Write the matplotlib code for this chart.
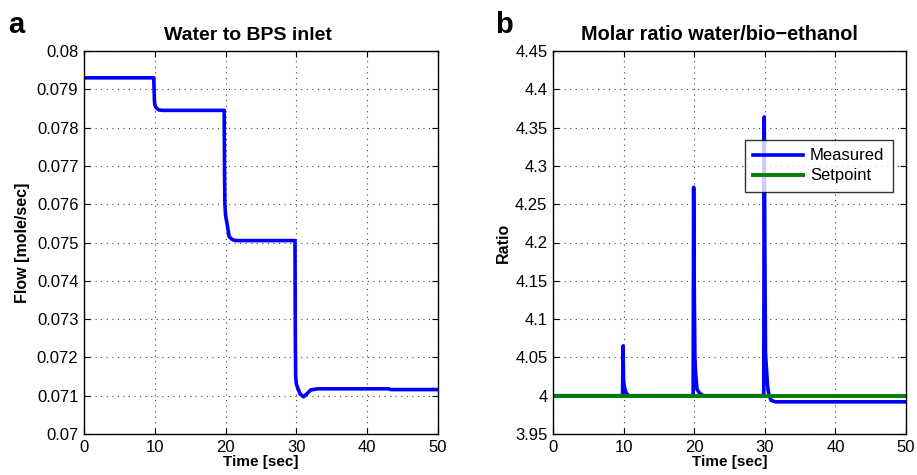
import matplotlib
matplotlib.use("Agg")
import matplotlib.pyplot as plt

plt.rcParams['font.family'] = ['Liberation Sans', 'DejaVu Sans']

# Panel a: water flow to BPS inlet
t_flow = [0, 9.85, 9.9, 9.95, 10.0, 10.1, 10.3, 10.6, 11.0, 19.8, 19.85, 19.9, 20.0,
          20.2, 20.5, 21.0, 21.5, 29.8, 29.85, 29.9, 30.0, 30.2, 30.5, 31.0, 31.5,
          32.0, 33.0, 43.0, 43.3, 50]
flow = [0.0793, 0.0793, 0.0790, 0.0787, 0.0786, 0.07855, 0.07850, 0.07846, 0.07845,
        0.07845, 0.0768, 0.0760, 0.0757, 0.0755, 0.07515, 0.07507, 0.07505, 0.07505,
        0.0725, 0.0715, 0.0713, 0.0712, 0.07105, 0.07097, 0.07105, 0.07115, 0.07118,
        0.07118, 0.07116, 0.07116]

# Panel b: molar ratio water/bio-ethanol
t_ratio = [0, 9.85, 9.92, 10.0, 10.1, 10.2, 10.4, 10.7, 19.85, 19.92, 20.0, 20.1, 20.2,
           20.4, 20.8, 21.3, 29.85, 29.92, 30.0, 30.1, 30.2, 30.4, 30.6, 30.9, 31.5, 50]
ratio = [4.0, 4.0, 4.065, 4.02, 4.012, 4.008, 4.003, 4.0, 4.0, 4.272, 4.15, 4.05, 4.03,
         4.008, 4.003, 4.0, 4.0, 4.364, 4.2, 4.055, 4.04, 4.012, 4.0, 3.994, 3.992, 3.992]
t_set = [0, 50]
setpoint = [4.0, 4.0]

x_ticks = [0, 10, 20, 30, 40, 50]
flow_ticks = [0.07, 0.071, 0.072, 0.073, 0.074, 0.075, 0.076, 0.077, 0.078, 0.079, 0.08]
flow_ticklabels = ['0.07', '0.071', '0.072', '0.073', '0.074', '0.075', '0.076',
                   '0.077', '0.078', '0.079', '0.08']
ratio_ticks = [3.95, 4.0, 4.05, 4.1, 4.15, 4.2, 4.25, 4.3, 4.35, 4.4, 4.45]
ratio_ticklabels = ['3.95', '4', '4.05', '4.1', '4.15', '4.2', '4.25', '4.3', '4.35',
                    '4.4', '4.45']

fig = plt.figure(figsize=(9.17, 4.75), dpi=100)
W, H = 917, 475
axA = fig.add_axes([84 / W, 1 - 434 / H, 354 / W, 383 / H])
axB = fig.add_axes([553 / W, 1 - 434 / H, 353 / W, 383 / H])


def style(ax):
    ax.grid(True, linestyle=(0, (1, 4)), color='#444444', linewidth=0.8)
    ax.tick_params(direction='in', top=True, right=True, labelsize=12,
                   length=4, width=0.8, pad=4)
    for s in ax.spines.values():
        s.set_linewidth(1.0)
    ax.set_xlim(0, 50)
    ax.set_xticks(x_ticks)


axA.plot(t_flow, flow, color='#0000ff', linewidth=2.6, solid_joinstyle='round')
style(axA)
axA.set_ylim(0.07, 0.08)
axA.set_yticks(flow_ticks)
axA.set_yticklabels(flow_ticklabels)
axA.set_title('Water to BPS inlet', fontsize=14, fontweight='bold', pad=8, x=0.462)
axA.set_xlabel('Time [sec]', fontsize=11, fontweight='bold', labelpad=0)
axA.set_ylabel('Flow [mole/sec]', fontsize=11.5, fontweight='bold', labelpad=5)

axB.plot(t_ratio, ratio, color='#0000ff', linewidth=2.6, label='Measured',
         solid_joinstyle='round')
axB.plot(t_set, setpoint, color='#007f00', linewidth=2.8, label='Setpoint')
style(axB)
axB.set_ylim(3.95, 4.45)
axB.set_yticks(ratio_ticks)
axB.set_yticklabels(ratio_ticklabels)
axB.set_title('Molar ratio water/bio\u2212ethanol', fontsize=14.3, fontweight='bold',
              pad=8, x=0.472)
axB.set_xlabel('Time [sec]', fontsize=11, fontweight='bold', labelpad=0)
axB.set_ylabel('Ratio', fontsize=11.5, fontweight='bold', labelpad=3)
leg = axB.legend(loc='upper left', bbox_to_anchor=((745 - 553) / 353, 1 - (140 - 51) / 383),
                 fontsize=12, frameon=True, fancybox=False, edgecolor='black',
                 handlelength=3.0, borderpad=0.5, labelspacing=0.3, handletextpad=0.4,
                 borderaxespad=0)
leg.get_frame().set_linewidth(1.0)

fig.text(8 / W, 1 - 33 / H, 'a', fontsize=21, fontweight='bold', va='baseline')
fig.text(495 / W, 1 - 33 / H, 'b', fontsize=21, fontweight='bold', va='baseline')

fig.savefig('out.png', dpi=100)
